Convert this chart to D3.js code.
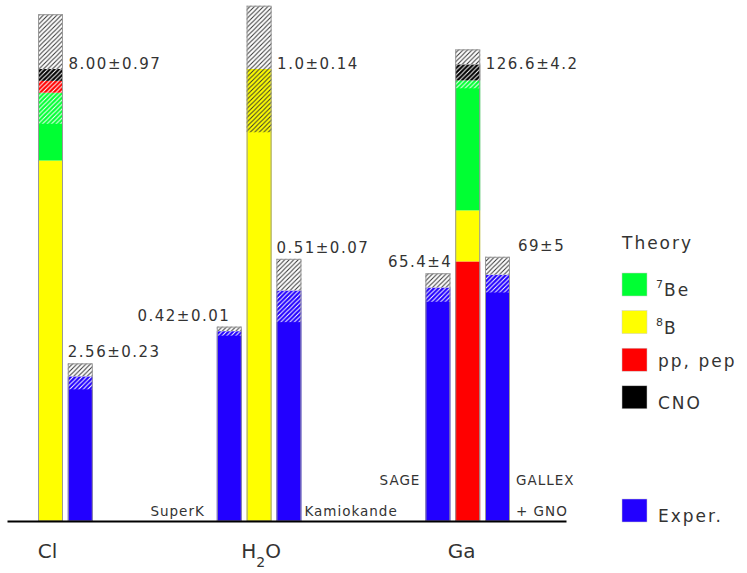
<!DOCTYPE html>
<html><head><meta charset="utf-8">
<script src="https://cdn.jsdelivr.net/npm/d3@7"></script>
<style>body{margin:0;background:#fff}</style>
</head><body><svg id="c" width="747" height="573"></svg>
<script>
// ---------------- data ----------------
const groups = ["Cl", "H2O", "Ga"];
const theoryValue = [8.00, 1.0, 126.6];
const theoryValueLabel = ["8.00", "1.0", "126.6"];
const theoryErrLabel = ["0.97", "0.14", "4.2"];
const theoryBandLo = [7.03, 0.86, 121.2];
const theoryBandHi = [8.97, 1.14, 132.1];
const flux8B  = [6.38, 1.0, 14.3];
const flux7Be = [1.20, 0, 36.4];
const fluxPP  = [0.21, 0, 72.7];
const fluxCNO = [0.21, 0, 4.5];
const experiments = ["Homestake", "SuperK", "Kamiokande", "SAGE", "GALLEX"];
const expGroup = ["Cl", "H2O", "H2O", "Ga", "Ga"];
const expValue = [2.56, 0.42, 0.51, 65.4, 69];
const expErr = [0.23, 0.01, 0.07, 4, 5];
const expValueLabel = ["2.56", "0.42", "0.51", "65.4", "69"];
const expErrLabel = ["0.23", "0.01", "0.07", "4", "5"];
const sources = ["7Be", "8B", "pp", "CNO"];
const legendSup = ["7", "8", "", ""];
const legendText = ["Be", "B", "pp, pep", "CNO"];

// ---------------- styling / layout ----------------
const color = {"7Be": "#00ff33", "8B": "#ffff00", "pp": "#ff0000", "CNO": "#000000", exp: "#2200ff"};
const fluxBy = {"7Be": flux7Be, "8B": flux8B, "pp": fluxPP, "CNO": fluxCNO};
const stackOrder = {Cl: ["8B", "7Be", "pp", "CNO"], H2O: ["8B"], Ga: ["pp", "8B", "7Be", "CNO"]};
const expLayout = {
  Homestake:  {slot: 1,  lab: "startLeft", name: null},
  SuperK:     {slot: -1, lab: "endCenter", name: {anchor: "end", side: "left", dx: -12, lines: ["SuperK"], y: 516}},
  Kamiokande: {slot: 1,  lab: "startLeft", name: {anchor: "start", side: "right", dx: 3, lines: ["Kamiokande"], y: 516}},
  SAGE:       {slot: -1, lab: "endRight", name: {anchor: "end", side: "left", dx: -5, lines: ["SAGE"], y: 485}},
  GALLEX:     {slot: 1,  lab: "startRight", name: {anchor: "start", side: "right", dx: 6, lines: ["GALLEX", "+ GNO"], y: 485}}
};
const catDx = {Cl: -3, H2O: 2, Ga: -6};
const base = 521, topY = 69, barW = 25, step = 29.8;
const textCol = "#333";
const numFont = "font-family:'DejaVu Sans';font-size:15px;letter-spacing:1.5px";

const svg = d3.select("#c");
const defs = svg.append("defs");
function hatch(id, col) {
  const p = defs.append("pattern").attr("id", id).attr("patternUnits", "userSpaceOnUse")
    .attr("width", 4.5).attr("height", 4.5);
  p.append("path").attr("d", "M-1,1 l2,-2 M0,4.5 l4.5,-4.5 M3.5,5.5 l2,-2")
    .attr("stroke", col).attr("stroke-width", 1);
}
hatch("hd", "#333");
hatch("hl", "#ffffff");

const xg = d3.scalePoint().domain(groups).range([50.5, 467.7]);
const yScales = {};
groups.forEach((g, i) => yScales[g] = d3.scaleLinear().domain([0, theoryValue[i]]).range([base, topY]));

function drawBar(x, y, segments, lo, hi) {
  const gB = svg.append("g");
  segments.forEach(s => {
    gB.append("rect").attr("x", x).attr("width", barW)
      .attr("y", y(s.to)).attr("height", y(s.from) - y(s.to)).attr("fill", s.color);
  });
  const top = segments.length ? segments[segments.length - 1].to : 0;
  segments.forEach(s => {
    const a = Math.max(s.from, lo), b = Math.min(s.to, hi);
    if (b > a) {
      const dark = (s.color === "#ffff00");
      gB.append("rect").attr("x", x).attr("width", barW)
        .attr("y", y(b)).attr("height", y(a) - y(b)).attr("fill", dark ? "url(#hd)" : "url(#hl)");
    }
  });
  if (hi > top) {
    gB.append("rect").attr("x", x).attr("width", barW)
      .attr("y", y(hi)).attr("height", y(top) - y(hi)).attr("fill", "#fff");
    gB.append("rect").attr("x", x).attr("width", barW)
      .attr("y", y(hi)).attr("height", y(top) - y(hi)).attr("fill", "url(#hd)");
  }
  gB.append("rect").attr("x", x + 0.5).attr("width", barW - 1)
    .attr("y", y(Math.max(hi, top)) + 0.5).attr("height", base - y(Math.max(hi, top)) - 0.5)
    .attr("fill", "none").attr("stroke", "#999").attr("stroke-width", 1);
}

// theory bars
groups.forEach((g, i) => {
  const y = yScales[g];
  let acc = 0;
  const segs = stackOrder[g].map(k => {
    const v = fluxBy[k][i];
    const s = {from: acc, to: acc + v, color: color[k]};
    acc += v;
    return s;
  });
  const x = xg(g) - barW / 2;
  drawBar(x, y, segs, theoryBandLo[i], theoryBandHi[i]);
  svg.append("text").attr("x", x + barW + 5.5).attr("y", y(theoryValue[i]))
    .attr("style", numFont).attr("fill", textCol)
    .text(theoryValueLabel[i] + "\u00b1" + theoryErrLabel[i]);
});

// experiment bars
experiments.forEach((e, j) => {
  const g = expGroup[j];
  const y = yScales[g];
  const L = expLayout[e];
  const x = xg(g) + L.slot * step - barW / 2;
  drawBar(x, y, [{from: 0, to: expValue[j], color: color.exp}], expValue[j] - expErr[j], expValue[j] + expErr[j]);
  let lx, anchor;
  if (L.lab === "startLeft") { lx = x; anchor = "start"; }
  else if (L.lab === "endCenter") { lx = x + barW / 2 + 1; anchor = "end"; }
  else if (L.lab === "endRight") { lx = x + barW + 2; anchor = "end"; }
  else { lx = x + barW + 8; anchor = "start"; }
  svg.append("text").attr("x", lx).attr("y", y(expValue[j] + expErr[j]) - 6)
    .attr("text-anchor", anchor).attr("style", numFont).attr("fill", textCol)
    .text(expValueLabel[j] + "\u00b1" + expErrLabel[j]);
  if (L.name) {
    const nx = L.name.side === "left" ? x + L.name.dx : x + barW + L.name.dx;
    L.name.lines.forEach((t, k) => {
      svg.append("text").attr("x", nx).attr("y", L.name.y + k * 31)
        .attr("text-anchor", L.name.anchor)
        .attr("style", "font-family:'DejaVu Sans';font-size:13.5px;letter-spacing:1px")
        .attr("fill", textCol).text(t);
    });
  }
});

// axis
const axisScale = d3.scaleLinear().domain([0, 1]).range([7, 566]);
const axisG = svg.append("g").attr("transform", `translate(0,${base})`);
axisG.call(d3.axisBottom(axisScale).ticks(0).tickSize(0).tickSizeOuter(0));
axisG.select(".domain").attr("stroke", "#000").attr("stroke-width", 2);

// category labels
const catFont = "font-family:'DejaVu Sans';font-size:20px";
groups.forEach(g => {
  const t = svg.append("text").attr("x", xg(g) + catDx[g]).attr("y", 558)
    .attr("text-anchor", "middle").attr("style", catFont).attr("fill", textCol);
  if (g === "H2O") {
    t.append("tspan").text("H");
    t.append("tspan").attr("dy", 9).attr("font-size", 14).text("2");
    t.append("tspan").attr("dy", -9).text("O");
  } else {
    t.text(g);
  }
});

// legend
const legFont = "font-family:'DejaVu Sans';font-size:17px;letter-spacing:2px";
svg.append("text").attr("x", 622).attr("y", 249).attr("style", legFont).attr("fill", textCol).text("Theory");
sources.forEach((s, k) => {
  const ty = 273 + k * 37.6;
  svg.append("rect").attr("x", 622).attr("y", ty).attr("width", 25).attr("height", 23)
    .attr("fill", color[s]).attr("stroke", "#ccc").attr("stroke-width", 0.5);
  const t = svg.append("text").attr("x", 656).attr("y", s === "pp" ? ty + 19 : ty + 23)
    .attr("style", legFont).attr("fill", textCol);
  if (legendSup[k]) {
    t.append("tspan").attr("font-size", 11).attr("dy", -8).attr("letter-spacing", "0px").text(legendSup[k]);
    t.append("tspan").attr("dy", 8).attr("dx", 1).text(legendText[k]);
  } else {
    t.append("tspan").attr("dx", 2).text(legendText[k]);
  }
});
svg.append("rect").attr("x", 622).attr("y", 499).attr("width", 25).attr("height", 23)
  .attr("fill", color.exp).attr("stroke", "#ccc").attr("stroke-width", 0.5);
svg.append("text").attr("x", 658).attr("y", 522).attr("style", legFont).attr("fill", textCol).text("Exper.");
</script>
</body></html>
